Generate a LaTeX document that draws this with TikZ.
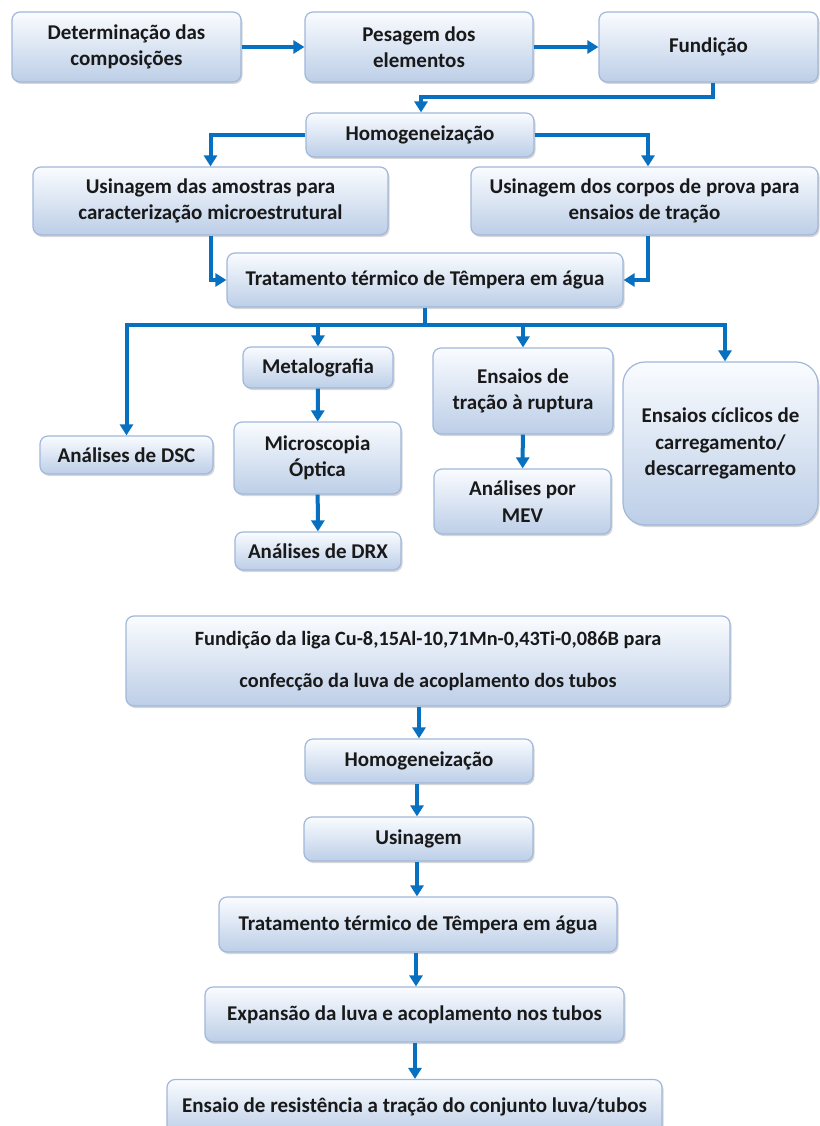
\documentclass[tikz,border=0pt]{standalone}
\usepackage{fontspec}
\setmainfont{Carlito}
\usetikzlibrary{arrows.meta,shadows}
\definecolor{boxtop}{RGB}{250,252,255}
\definecolor{boxbot}{RGB}{188,206,231}
\definecolor{boxline}{RGB}{160,184,218}
\definecolor{arrblue}{RGB}{8,112,192}
\definecolor{txt}{RGB}{25,25,25}
\tikzset{
  box/.style={draw=boxline, line width=1.2pt, rounded corners=8pt,
    top color=boxtop, bottom color=boxbot, inner sep=0pt, align=center,
    text=txt, font=\fontsize{21}{26.5}\selectfont\bfseries,
    drop shadow={shadow xshift=1.5pt, shadow yshift=-2pt, opacity=0.22, fill=black!70}},
  flow/.style={draw=arrblue, line width=4pt},
  arr/.style={flow, -{Triangle[width=13pt,length=11pt]}},
}
\newcommand{\bx}[6]{\node[box, minimum width=#4pt, minimum height=#5pt, #6] (#1) at (#2,#3)}
\begin{document}
\begin{tikzpicture}[x=1pt,y=-1pt]
\useasboundingbox[fill=white] (0,0) rectangle (819,1126);
% top part
\bx{det}{126.5}{47}{229}{70}{}{Determinação das\\composições};
\bx{pes}{419}{47}{228}{70}{}{Pesagem dos\\elementos};
\bx{fund}{708.5}{47}{219}{70}{}{Fundição};
\bx{homo}{420}{135}{228}{44}{}{Homogeneização};
\bx{usiA}{210.5}{201}{355}{68}{}{Usinagem das amostras para\\caracterização microestrutural};
\bx{usiC}{644.5}{201}{347}{68}{}{Usinagem dos corpos de prova para\\ensaios de tração};
\bx{trat}{425}{280}{396}{54}{}{Tratamento térmico de Têmpera em água};
\bx{dsc}{126.5}{455}{173}{38}{}{Análises de DSC};
\bx{meta}{318}{367.5}{150}{41}{}{Metalografia};
\bx{micro}{317.5}{458}{167}{72}{}{Microscopia\\Óptica};
\bx{drx}{318}{551}{166}{38}{}{Análises de DRX};
\bx{ensT}{523}{391}{180}{86}{}{Ensaios de\\tração à ruptura};
\bx{mev}{522.5}{501.5}{177}{65}{}{Análises por\\MEV};
\bx{cicl}{720.5}{443.5}{195}{163}{rounded corners=22pt}{Ensaios cíclicos de\\carregamento/\\descarregamento};
% bottom part
\bx{fliga}{428}{661}{604}{90}{font=\fontsize{20.3}{42}\selectfont\bfseries}{Fundição da liga Cu-8,15Al-10,71Mn-0,43Ti-0,086B para\\confecção da luva de acoplamento dos tubos};
\bx{homo2}{419}{761}{228}{44}{}{Homogeneização};
\bx{usin}{418.5}{839}{229}{44}{}{Usinagem};
\bx{trat2}{418}{924.5}{398}{55}{}{Tratamento térmico de Têmpera em água};
\bx{exp}{414.5}{1014.5}{419}{55}{}{Expansão da luva e acoplamento nos tubos};
\bx{ens}{414.5}{1107}{495}{55}{}{Ensaio de resistência a tração do conjunto luva/tubos};
% coordinates
\coordinate (j1) at (713,97);
\coordinate (j2) at (421,97);
\coordinate (bus) at (425,325);
\coordinate (cx) at (725,0);
\coordinate (hx) at (648,0);
\coordinate (a1) at (419,0);
\coordinate (a2) at (417,0);
\coordinate (a3) at (417,0);
\coordinate (a4) at (416,0);
\coordinate (a5) at (415,0);
% connectors top
\draw[arr] (det) -- (pes);
\draw[arr] (pes) -- (fund);
\draw[arr] (fund.south -| j1) -- (j1) -- (j2) -- (homo.north -| j2);
\draw[arr] (homo.west) -| (usiA.north);
\draw[arr] (homo.east) -| (usiC.north -| hx);
\draw[arr] (usiA.south) |- (trat.west);
\draw[arr] (usiC.south -| hx) |- (trat.east);
\draw[flow] (trat.south -| bus) -- (bus);
\draw[arr] (bus) -| (dsc.north);
\draw[arr] (bus) -| (meta.north);
\draw[arr] (bus) -| (ensT.north);
\draw[arr] (bus) -| (cicl.north -| cx);
\draw[arr] (meta) -- (micro);
\draw[arr] (micro) -- (drx);
\draw[arr] (ensT) -- (mev);
% connectors bottom
\draw[arr] (fliga.south -| a1) -- (homo2.north -| a1);
\draw[arr] (homo2.south -| a2) -- (usin.north -| a2);
\draw[arr] (usin.south -| a3) -- (trat2.north -| a3);
\draw[arr] (trat2.south -| a4) -- (exp.north -| a4);
\draw[arr] (exp.south -| a5) -- (ens.north -| a5);
\end{tikzpicture}
\end{document}
